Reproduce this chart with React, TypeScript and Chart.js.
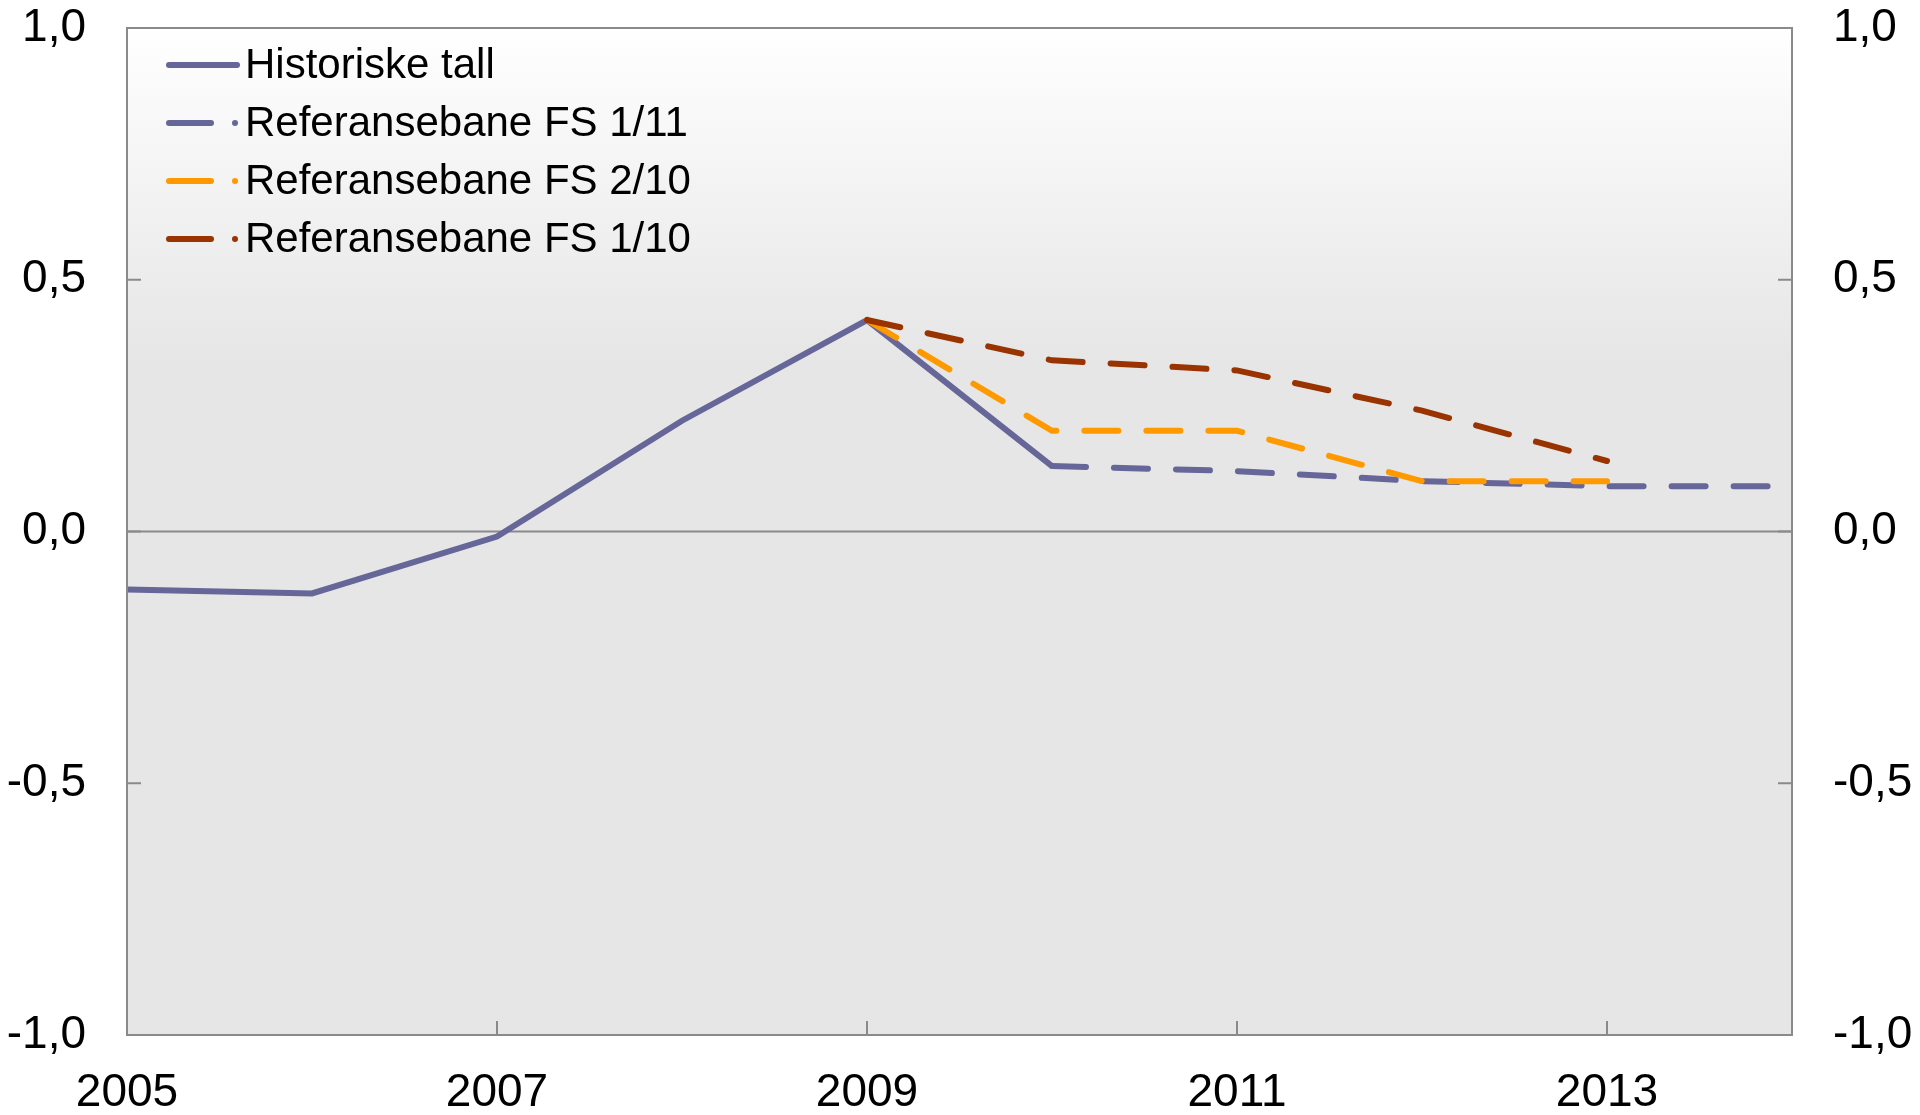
import React, { useEffect, useRef } from "react";
import { Chart, registerables } from "chart.js";

Chart.register(...registerables);

const years = ["2005", "2006", "2007", "2008", "2009", "2010", "2011", "2012", "2013", "2014"];
const historiske = [-0.115, -0.123, -0.01, 0.22, 0.42, 0.13, null, null, null, null];
const fs111 = [null, null, null, null, null, 0.13, 0.12, 0.1, 0.09, 0.09];
const fs210 = [null, null, null, null, 0.42, 0.2, 0.2, 0.1, 0.1, null];
const fs110 = [null, null, null, null, 0.42, 0.34, 0.32, 0.24, 0.14, null];
const seriesNames = ["Historiske tall", "Referansebane FS 1/11", "Referansebane FS 2/10", "Referansebane FS 1/10"];
const yTicks = [-1, -0.5, 0, 0.5, 1];

const PURPLE = "#666699";
const ORANGE = "#FF9900";
const DARKRED = "#993300";
const FRAME = "#8a8a8a";
const FONT = "'Liberation Sans', Arial, sans-serif";

const fmt = (v: number) => v.toFixed(1).replace(".", ",");

const framePlugin = {
  id: "framePlugin",
  beforeDatasetsDraw(chart: any) {
    const { ctx, chartArea } = chart;
    const { left, right, top, bottom } = chartArea;
    ctx.save();
    const g = ctx.createLinearGradient(0, top, 0, bottom);
    g.addColorStop(0, "#ffffff");
    g.addColorStop(0.33, "#e6e6e6");
    g.addColorStop(1, "#e6e6e6");
    ctx.fillStyle = g;
    ctx.fillRect(left, top, right - left, bottom - top);
    const ys = chart.scales.y;
    const xs = chart.scales.x;
    ctx.strokeStyle = FRAME;
    ctx.lineWidth = 2;
    const y0 = ys.getPixelForValue(0);
    ctx.beginPath();
    ctx.moveTo(left, y0);
    ctx.lineTo(right, y0);
    ctx.stroke();
    const tl = 14;
    yTicks.forEach((v) => {
      const py = ys.getPixelForValue(v);
      ctx.beginPath();
      ctx.moveTo(left, py);
      ctx.lineTo(left + tl, py);
      ctx.moveTo(right, py);
      ctx.lineTo(right - tl, py);
      ctx.stroke();
    });
    years.forEach((_, i) => {
      if (i % 2 !== 0) return;
      const px = xs.getPixelForValue(i);
      ctx.beginPath();
      ctx.moveTo(px, bottom);
      ctx.lineTo(px, bottom - tl);
      ctx.stroke();
    });
    ctx.restore();
  },
  afterDatasetsDraw(chart: any) {
    const { ctx, chartArea } = chart;
    const { left, right, top, bottom } = chartArea;
    ctx.save();
    ctx.strokeStyle = FRAME;
    ctx.lineWidth = 2;
    ctx.strokeRect(left, top, right - left, bottom - top);
    const colors = [PURPLE, PURPLE, ORANGE, DARKRED];
    const x0 = left + 42;
    const yStart = top + 37;
    const step = 58;
    ctx.lineCap = "round";
    ctx.lineWidth = 6;
    ctx.font = `42px ${FONT}`;
    ctx.textBaseline = "middle";
    ctx.textAlign = "left";
    seriesNames.forEach((name, i) => {
      const y = yStart + i * step;
      ctx.strokeStyle = colors[i];
      ctx.fillStyle = colors[i];
      ctx.beginPath();
      if (i === 0) {
        ctx.moveTo(x0, y);
        ctx.lineTo(x0 + 68, y);
        ctx.stroke();
      } else {
        ctx.moveTo(x0, y);
        ctx.lineTo(x0 + 42, y);
        ctx.stroke();
        ctx.beginPath();
        ctx.arc(x0 + 66, y, 3, 0, Math.PI * 2);
        ctx.fill();
      }
      ctx.fillStyle = "#000";
      ctx.fillText(name, x0 + 76, y + 1);
    });
    ctx.restore();
  },
};

export default function App() {
  const ref = useRef<HTMLCanvasElement | null>(null);
  useEffect(() => {
    if (!ref.current) return;
    const dash = [34, 28];
    const yFit = (w: number) => (s: any) => {
      s.width = w;
      s.paddingTop = 0;
      s.paddingBottom = 0;
    };
    const chart = new Chart(ref.current, {
      type: "line",
      data: {
        labels: years,
        datasets: [
          { label: seriesNames[0], data: historiske, borderColor: PURPLE, borderWidth: 6, pointRadius: 0, order: 4, tension: 0 },
          { label: seriesNames[1], data: fs111, borderColor: PURPLE, borderWidth: 6, borderDash: dash, borderCapStyle: "round", pointRadius: 0, order: 3, tension: 0 },
          { label: seriesNames[2], data: fs210, borderColor: ORANGE, borderWidth: 6, borderDash: dash, borderCapStyle: "round", pointRadius: 0, order: 2, tension: 0 },
          { label: seriesNames[3], data: fs110, borderColor: DARKRED, borderWidth: 6, borderDash: dash, borderCapStyle: "round", pointRadius: 0, order: 1, tension: 0 },
        ],
      },
      options: {
        responsive: false,
        animation: false,
        layout: { padding: { top: 28, left: 0, right: 0, bottom: 0 } },
        plugins: { legend: { display: false }, tooltip: { enabled: false } },
        scales: {
          x: {
            type: "category",
            offset: false,
            grid: { display: false, drawTicks: false },
            border: { display: false },
            ticks: {
              autoSkip: false,
              maxRotation: 0,
              padding: 31,
              color: "#000",
              font: { family: FONT, size: 46 },
              callback: (_v: any, i: number) => (i % 2 === 0 ? years[i] : ""),
            },
            afterFit: (s: any) => { s.height = 80; s.paddingLeft = 0; s.paddingRight = 0; },
          },
          y: {
            position: "left",
            min: -1,
            max: 1,
            grid: { display: false, drawTicks: false },
            border: { display: false },
            ticks: {
              stepSize: 0.5,
              padding: 41,
              color: "#000",
              font: { family: FONT, size: 46 },
              callback: (v: any) => fmt(Number(v)),
            },
            afterFit: yFit(127),
          },
          y2: {
            position: "right",
            min: -1,
            max: 1,
            grid: { display: false, drawTicks: false },
            border: { display: false },
            ticks: {
              stepSize: 0.5,
              padding: 41,
              color: "#000",
              font: { family: FONT, size: 46 },
              callback: (v: any) => fmt(Number(v)),
            },
            afterFit: yFit(128),
          },
        },
      },
      plugins: [framePlugin],
    });
    return () => chart.destroy();
  }, []);
  return (
    <div style={{ position: "fixed", left: 0, top: 0, width: 1920, height: 1115, background: "#fff" }}>
      <canvas ref={ref} width={1920} height={1115} style={{ display: "block" }} />
    </div>
  );
}
